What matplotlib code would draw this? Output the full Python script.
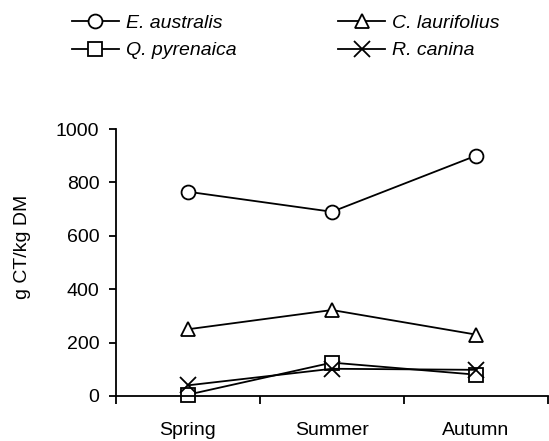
import matplotlib
matplotlib.use("Agg")
import matplotlib.pyplot as plt
import numpy as np

plt.rcParams['font.family'] = ['Liberation Sans', 'DejaVu Sans']

seasons = ["Spring", "Summer", "Autumn"]
e_australis = [765, 690, 900]
c_laurifolius = [250, 322, 230]
q_pyrenaica = [5, 125, 80]
r_canina = [40, 102, 98]

series = [
    ("E. australis", e_australis, "o"),
    ("C. laurifolius", c_laurifolius, "^"),
    ("Q. pyrenaica", q_pyrenaica, "s"),
    ("R. canina", r_canina, "x"),
]

FS = 14
W, H = 549, 441
fig = plt.figure(figsize=(W / 100, H / 100), dpi=100)
ax = fig.add_axes([116 / W, 1 - 396 / H, (548 - 116) / W, (396 - 129) / H])

x = np.arange(len(seasons))
handles = []
for name, vals, mk in series:
    ms = 10 if mk != "x" else 11
    l, = ax.plot(x, vals, color="black", lw=1.3, marker=mk, markersize=ms,
                 markerfacecolor="white", markeredgecolor="black",
                 markeredgewidth=1.3, label=name, clip_on=False)
    handles.append(l)

ax.set_xlim(-0.5, 2.5)
ax.set_ylim(0, 1000)
ax.set_yticks([0, 200, 400, 600, 800, 1000])
ax.set_xticks([-0.5, 0.5, 1.5, 2.5])
ax.set_xticklabels([])
ax.set_xticks(x, minor=True)
ax.set_xticklabels(seasons, minor=True)
ax.tick_params(axis="x", which="minor", length=0, pad=19, labelsize=FS)
ax.tick_params(axis="x", which="major", length=6, width=1.3, direction="out")
ax.tick_params(axis="y", length=5, width=1.3, direction="out", labelsize=FS, pad=7)
for s in ["top", "right"]:
    ax.spines[s].set_visible(False)
for s in ["left", "bottom"]:
    ax.spines[s].set_linewidth(1.3)
ax.set_ylabel("g CT/kg DM", fontsize=FS)
ax.yaxis.set_label_coords(-85 / 432, (396 - 247) / 267)

order = [handles[0], handles[2], handles[1], handles[3]]
leg = fig.legend(order, [h.get_label() for h in order], ncol=2,
                 loc="upper left", bbox_to_anchor=(54 / W, 1 + 3 / H),
                 frameon=False, handlelength=2.45, handletextpad=0.35,
                 columnspacing=5.2, labelspacing=0.5,
                 prop={"style": "italic", "size": FS})

fig.savefig("out.png", dpi=100)
